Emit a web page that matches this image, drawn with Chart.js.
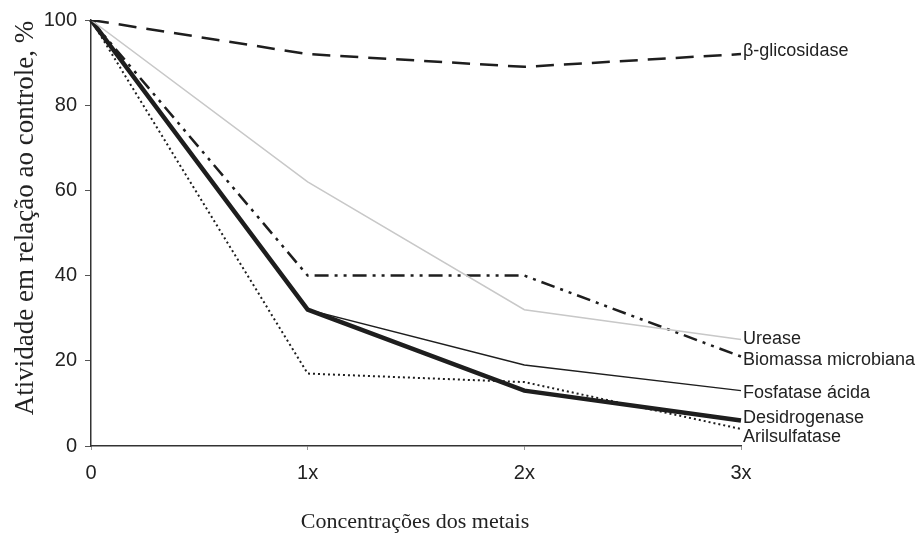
<!DOCTYPE html>
<html>
<head>
<meta charset="utf-8">
<script src="https://cdn.jsdelivr.net/npm/chart.js@4.4.1/dist/chart.umd.min.js"></script>
<style>
  html, body { margin: 0; padding: 0; background: #fff; }
  #wrap { width: 922px; height: 536px; }
</style>
</head>
<body>
<div id="wrap"><canvas id="c" width="922" height="536"></canvas></div>
<script>
// Concentration levels (x axis)
const concentracoes = ['0', '1x', '2x', '3x'];

// Activity relative to control, %
const betaGlicosidase    = [100, 92, 89, 92];
const urease             = [100, 62, 32, 25];
const biomassaMicrobiana = [100, 40, 40, 21];
const fosfataseAcida     = [100, 32, 19, 13];
const desidrogenase      = [100, 32, 13, 6];
const arilsulfatase      = [100, 17, 15, 4];

const yTicks = [0, 20, 40, 60, 80, 100];

const seriesNames = ['β-glicosidase', 'Urease', 'Biomassa microbiana',
                     'Fosfatase ácida', 'Desidrogenase', 'Arilsulfatase'];

// small vertical nudges (px) so the end labels don't collide
const labelNudge = [-3, 0, 3, 2, -2, 8];

const ink = '#1e1e1e';

const datasets = [
  { label: seriesNames[0], data: betaGlicosidase, borderColor: ink, borderWidth: 2.5, borderDash: [18, 10] },
  { label: seriesNames[1], data: urease, borderColor: '#c8c8c8', borderWidth: 1.5 },
  { label: seriesNames[2], data: biomassaMicrobiana, borderColor: ink, borderWidth: 2.5, borderDash: [14, 6, 3, 6, 3, 6] },
  { label: seriesNames[3], data: fosfataseAcida, borderColor: ink, borderWidth: 1.5 },
  { label: seriesNames[4], data: desidrogenase, borderColor: ink, borderWidth: 4.5 },
  { label: seriesNames[5], data: arilsulfatase, borderColor: ink, borderWidth: 2, borderDash: [2, 3] }
].map(d => Object.assign({ fill: false, pointRadius: 0, tension: 0 }, d));

const endLabels = {
  id: 'endLabels',
  afterDatasetsDraw(chart) {
    const ctx = chart.ctx;
    const xs = chart.scales.x, ys = chart.scales.y;
    ctx.save();
    ctx.fillStyle = '#222';
    ctx.font = '18px "Liberation Sans", Arial, sans-serif';
    ctx.textAlign = 'left';
    ctx.textBaseline = 'middle';
    chart.data.datasets.forEach((ds, i) => {
      const last = ds.data.length - 1;
      const x = xs.getPixelForValue(last) + 2;
      const y = ys.getPixelForValue(ds.data[last]) + labelNudge[i];
      ctx.fillText(ds.label, x, y);
    });
    ctx.restore();
  }
};

const axisTitles = {
  id: 'axisTitles',
  afterDraw(chart) {
    const ctx = chart.ctx;
    ctx.save();
    ctx.fillStyle = '#222';
    ctx.textAlign = 'center';
    ctx.textBaseline = 'middle';
    ctx.font = '22px "Liberation Serif", "Times New Roman", serif';
    ctx.fillText('Concentrações dos metais', 415, 522);
    ctx.font = '27px "Liberation Serif", "Times New Roman", serif';
    ctx.translate(26, 218);
    ctx.rotate(-Math.PI / 2);
    ctx.fillText('Atividade em relação ao controle, %', 0, 0);
    ctx.restore();
  }
};

new Chart(document.getElementById('c'), {
  type: 'line',
  data: { labels: concentracoes, datasets },
  options: {
    responsive: false,
    animation: false,
    layout: { padding: { left: 0, top: 16, right: 181, bottom: 0 } },
    plugins: { legend: { display: false }, tooltip: { enabled: false } },
    scales: {
      x: {
        offset: false,
        afterFit(s) { s.height = 90; },
        grid: { drawOnChartArea: false, drawTicks: true, tickLength: 4, color: '#999' },
        border: { color: '#333', width: 1.5 },
        ticks: { color: '#222', padding: 11, font: { family: '"Liberation Sans", Arial, sans-serif', size: 20 } }
      },
      y: {
        min: 0, max: 100,
        afterFit(s) { s.width = 91; },
        afterBuildTicks(s) { s.ticks = yTicks.map(v => ({ value: v })); },
        grid: { drawOnChartArea: false, drawTicks: true, tickLength: 6, color: '#555' },
        border: { color: '#333', width: 1.5 },
        ticks: { color: '#222', padding: 8, font: { family: '"Liberation Sans", Arial, sans-serif', size: 20 } }
      }
    }
  },
  plugins: [endLabels, axisTitles]
});
</script>
</body>
</html>
